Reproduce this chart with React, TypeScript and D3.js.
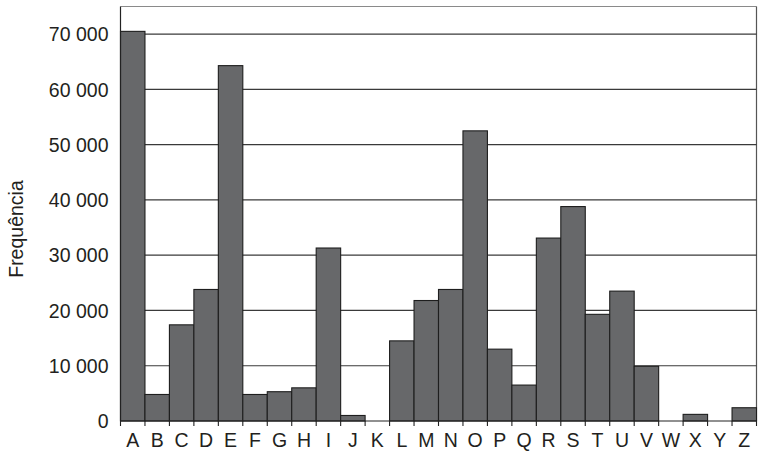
import React from "react";
import * as d3 from "d3";

const letters = ["A","B","C","D","E","F","G","H","I","J","K","L","M","N","O","P","Q","R","S","T","U","V","W","X","Y","Z"];
const frequencies = [70500,4800,17400,23800,64300,4800,5300,6000,31300,1000,0,14500,21800,23800,52500,13000,6500,33100,38800,19300,23500,9900,0,1200,0,2400];
const yTicks = [0,10000,20000,30000,40000,50000,60000,70000];
const yLabel = "Frequência";

const W = 763, H = 451;
const left = 120.5, right = 756.5, top = 6.5, bottom = 421;

export default function App() {
  const x = d3.scaleBand<string>().domain(letters).range([left, right]).paddingInner(0).paddingOuter(0);
  const y = d3.scaleLinear().domain([0, 75000]).range([bottom, top]);
  const fmt = (v: number) => (v === 0 ? "0" : d3.format(",")(v).replace(/,/g, " "));
  const font = "'Liberation Sans', Arial, sans-serif";
  const bw = x.bandwidth();
  const boundaries = letters.map((l) => x(l) as number).concat([right]);
  return (
    <svg width={W} height={H} style={{ position: "absolute", left: 0, top: 0, background: "#fff" }}>
      <rect x={0} y={0} width={W} height={H} fill="#fff" />
      {/* frame */}
      <line x1={left} x2={right} y1={top} y2={top} stroke="#8a8a8a" strokeWidth={1.2} />
      <line x1={right} x2={right} y1={top} y2={bottom} stroke="#555" strokeWidth={1.2} />
      {/* gridlines */}
      {yTicks.filter((t) => t > 0).map((t) => (
        <line key={t} x1={left} x2={right} y1={y(t)} y2={y(t)} stroke="#3a3a3a" strokeWidth={1.2} />
      ))}
      {/* bars */}
      {letters.map((l, i) => (
        <rect key={l} x={x(l)} y={y(frequencies[i])} width={bw} height={bottom - y(frequencies[i])}
          fill="#67686a" stroke="#1e1e1e" strokeWidth={1.1} />
      ))}
      {/* axes */}
      <line x1={left} x2={left} y1={top} y2={bottom} stroke="#222" strokeWidth={1.2} />
      <line x1={left} x2={right} y1={bottom} y2={bottom} stroke="#222" strokeWidth={1.2} />
      {boundaries.map((bx, i) => (
        <line key={i} x1={bx} x2={bx} y1={bottom} y2={bottom + 5} stroke="#222" strokeWidth={1.1} />
      ))}
      {/* y tick labels */}
      {yTicks.map((t) => (
        <text key={t} x={108.5} y={y(t) + 2} textAnchor="end" dominantBaseline="middle"
          fontFamily={font} fontSize={19.5} fill="#231f20">{fmt(t)}</text>
      ))}
      {/* x labels */}
      {letters.map((l) => (
        <text key={l} x={(x(l) as number) + bw / 2} y={446.5} textAnchor="middle"
          fontFamily={font} fontSize={19.5} fill="#231f20">{l}</text>
      ))}
      <text transform={`translate(22.5,229) rotate(-90)`} textAnchor="middle"
        fontFamily={font} fontSize={19.5} fill="#231f20">{yLabel}</text>
    </svg>
  );
}
